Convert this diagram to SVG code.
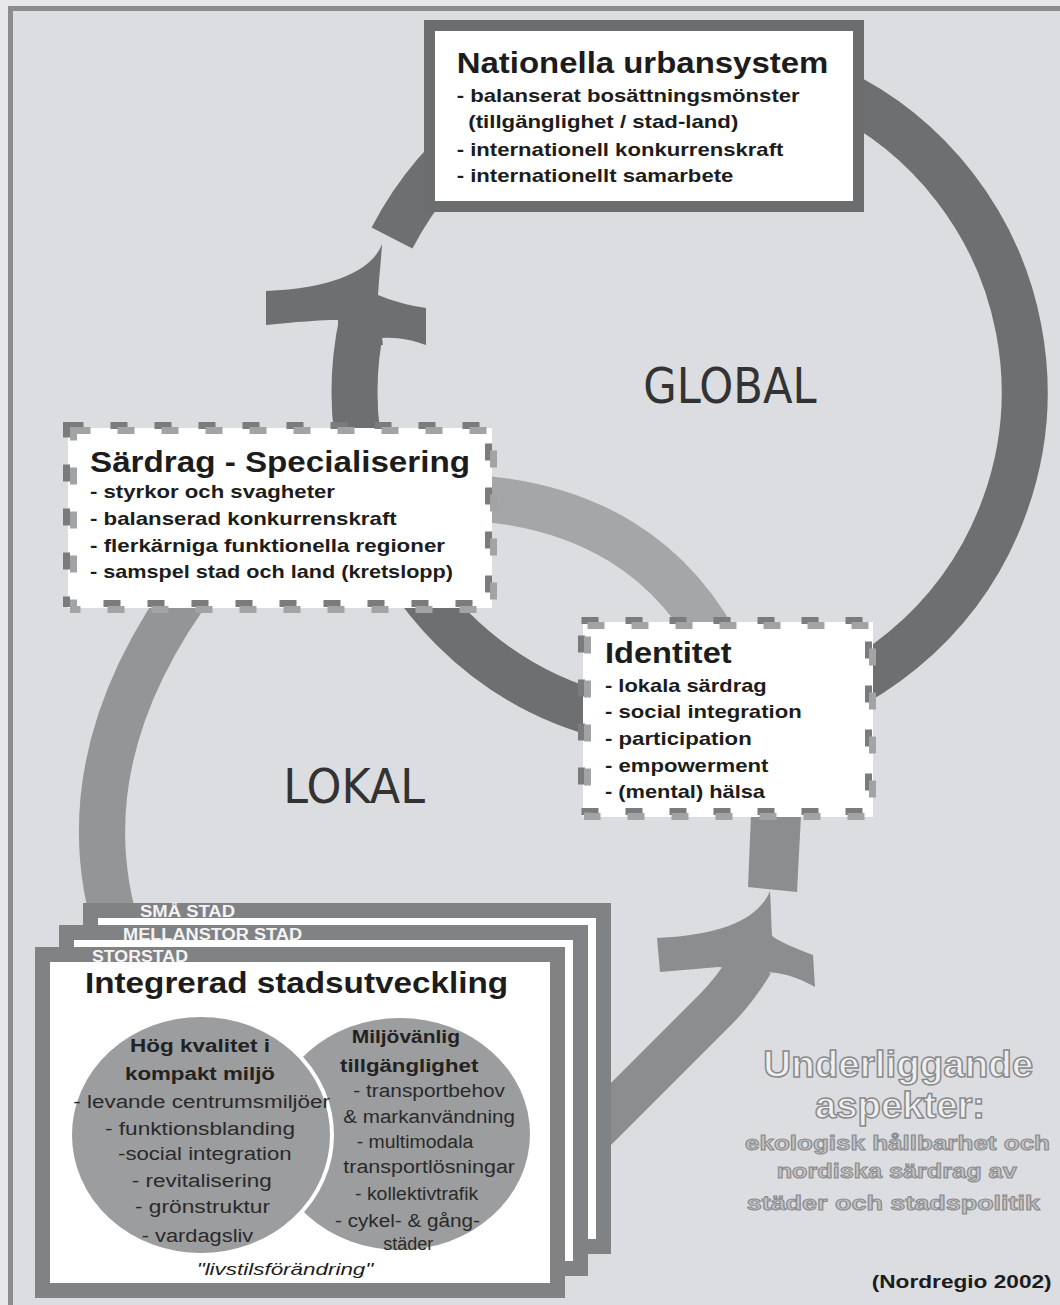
<svg xmlns="http://www.w3.org/2000/svg" width="1060" height="1305" viewBox="0 0 1060 1305">
<defs>
<style>
.t{font-family:"Liberation Sans",Arial,sans-serif;fill:#1c1c1c}
.h{font-size:30px;font-weight:bold}
.li{font-size:19px;font-weight:bold}
.c{font-size:18px;fill:#2a2a2a}
.cb{font-size:18px;font-weight:bold;fill:#222}
.st{font-family:"Liberation Sans",Arial,sans-serif;font-size:16px;font-weight:bold;fill:#f4f4f4}
.ol{font-family:"Liberation Sans",Arial,sans-serif;font-weight:bold;font-size:37px;fill:#efeff0;stroke:#8a8b8d;stroke-width:1.5}
.ol2{font-family:"Liberation Sans",Arial,sans-serif;font-weight:bold;font-size:20px;fill:#c3c4c6;stroke:#8a8b8d;stroke-width:1}
.cm{font-family:"DejaVu Sans",sans-serif;fill:#333}
.dd{fill:none;stroke:#7a7b7d;stroke-width:7;stroke-dasharray:17 27}
.dl{fill:none;stroke:#a2a3a5;stroke-width:7;stroke-dasharray:17 27}
.sb{fill:#fff;stroke:#818284;stroke-width:15}
.gr{fill:none;stroke:#6e6f71;stroke-width:46}
</style>
</defs>
<rect x="0" y="0" width="1060" height="1305" fill="#e8e8ea"/>
<rect x="10.5" y="8.5" width="1060" height="1310" fill="#dcdde0" stroke="#8b8c8e" stroke-width="5"/>

<g id="connectors">
  <!-- GLOBAL ring -->
  <path class="gr" d="M 392,238 A 335 335 0 1 1 362.3,320.4"/>
  <path fill="#6e6f71" d="M 382,244 C 374,266 342,288 266,291 L 266,325 C 296,322 320,320 338,320 L 338,345 L 383,345 L 382,338 C 398,337 412,340 426,345 L 426,308 C 406,305 390,300 378,295 C 379,278 381,262 382,244 Z"/>
  <!-- LOKAL ring pieces -->
  <path fill="none" stroke="#a5a6a8" stroke-width="46" d="M 460,497 Q 650,505 725,660"/>
  <path fill="none" stroke="#949597" stroke-width="46" d="M 200,575 Q 60,760 120,940"/>
  <polygon fill="#8c8d8f" points="751,815 801,815 797,892 748,887"/>
  <path fill="none" stroke="#8c8d8f" stroke-width="44" d="M 590,1135 L 715,1010 Q 735,990 752,962"/>
  <path fill="#8c8d8f" d="M 770,891 C 760,915 730,935 657,938 L 660,972 C 685,970 705,968 718,967 L 777,973 C 790,975 803,980 815,987 L 813,955 C 795,948 780,942 772,936 C 771,920 771,905 770,891 Z"/>
</g>

<g id="node-nationella">
  <rect x="429.5" y="25.5" width="429" height="181" fill="#fff" stroke="#6c6d6f" stroke-width="11"/>
  <text class="t h" x="456.7" y="73.3" textLength="371.6" lengthAdjust="spacingAndGlyphs">Nationella urbansystem</text>
  <text class="t li" x="456.7" y="101.7" textLength="343" lengthAdjust="spacingAndGlyphs">- balanserat bosättningsmönster</text>
  <text class="t li" x="468.3" y="128.3" textLength="270" lengthAdjust="spacingAndGlyphs">(tillgänglighet / stad-land)</text>
  <text class="t li" x="456.7" y="155.7" textLength="326.7" lengthAdjust="spacingAndGlyphs">- internationell konkurrenskraft</text>
  <text class="t li" x="456.7" y="181.7" textLength="276.7" lengthAdjust="spacingAndGlyphs">- internationellt samarbete</text>
</g>

<g id="node-sardrag">
  <rect x="68" y="428" width="424" height="180" fill="#fff"/>
  <rect class="dd" x="66.5" y="425.5" width="422" height="178"/>
  <rect class="dl" x="73.5" y="430.5" width="420" height="179"/>
  <text class="t h" x="90" y="471.7" textLength="380" lengthAdjust="spacingAndGlyphs">Särdrag - Specialisering</text>
  <text class="t li" x="90" y="498.3" textLength="245" lengthAdjust="spacingAndGlyphs">- styrkor och svagheter</text>
  <text class="t li" x="90" y="525" textLength="306.7" lengthAdjust="spacingAndGlyphs">- balanserad konkurrenskraft</text>
  <text class="t li" x="90" y="551.7" textLength="355" lengthAdjust="spacingAndGlyphs">- flerkärniga funktionella regioner</text>
  <text class="t li" x="90" y="578.3" textLength="363" lengthAdjust="spacingAndGlyphs">- samspel stad och land (kretslopp)</text>
</g>

<g id="node-identitet">
  <rect x="583" y="622" width="290" height="195" fill="#fff"/>
  <rect class="dd" x="581.5" y="620.5" width="287" height="191"/>
  <rect class="dl" x="587.5" y="625.5" width="285" height="191"/>
  <text class="t h" x="605" y="663.3" textLength="126.7" lengthAdjust="spacingAndGlyphs">Identitet</text>
  <text class="t li" x="605" y="691.7" textLength="161.7" lengthAdjust="spacingAndGlyphs">- lokala särdrag</text>
  <text class="t li" x="605" y="718.3" textLength="196.7" lengthAdjust="spacingAndGlyphs">- social integration</text>
  <text class="t li" x="605" y="745" textLength="146.7" lengthAdjust="spacingAndGlyphs">- participation</text>
  <text class="t li" x="605" y="771.7" textLength="163.3" lengthAdjust="spacingAndGlyphs">- empowerment</text>
  <text class="t li" x="605" y="798.3" textLength="160" lengthAdjust="spacingAndGlyphs">- (mental) hälsa</text>
</g>

<g id="node-integrerad">
  <rect class="sb" x="90.5" y="910.5" width="513" height="336"/>
  <text class="st" x="140" y="917" textLength="95" lengthAdjust="spacingAndGlyphs">SMÅ STAD</text>
  <rect class="sb" x="66.5" y="932.5" width="514" height="336"/>
  <text class="st" x="123" y="940" textLength="179" lengthAdjust="spacingAndGlyphs">MELLANSTOR STAD</text>
  <rect class="sb" x="42.5" y="954.5" width="515" height="336"/>
  <text class="st" x="92" y="962" textLength="96" lengthAdjust="spacingAndGlyphs">STORSTAD</text>
  <text class="t h" x="85" y="993" textLength="423" lengthAdjust="spacingAndGlyphs">Integrerad stadsutveckling</text>
  <ellipse cx="400" cy="1134" rx="130" ry="116" fill="#9c9d9f"/>
  <ellipse cx="201" cy="1135" rx="131" ry="120" fill="#9c9d9f" stroke="#fff" stroke-width="4"/>
  <text class="t cb" x="130" y="1051.7" textLength="140" lengthAdjust="spacingAndGlyphs">Hög kvalitet i</text>
  <text class="t cb" x="125" y="1080" textLength="150" lengthAdjust="spacingAndGlyphs">kompakt miljö</text>
  <text class="t c" x="73.3" y="1108.3" textLength="256.7" lengthAdjust="spacingAndGlyphs">- levande centrumsmiljöer</text>
  <text class="t c" x="105" y="1135" textLength="190" lengthAdjust="spacingAndGlyphs">- funktionsblanding</text>
  <text class="t c" x="118" y="1160" textLength="173.7" lengthAdjust="spacingAndGlyphs">-social integration</text>
  <text class="t c" x="131.7" y="1186.7" textLength="140" lengthAdjust="spacingAndGlyphs">- revitalisering</text>
  <text class="t c" x="135" y="1213.3" textLength="135" lengthAdjust="spacingAndGlyphs">- grönstruktur</text>
  <text class="t c" x="141.7" y="1241.7" textLength="111.6" lengthAdjust="spacingAndGlyphs">- vardagsliv</text>
  <text class="t cb" x="351.7" y="1043.3" textLength="108.3" lengthAdjust="spacingAndGlyphs">Miljövänlig</text>
  <text class="t cb" x="340" y="1071.7" textLength="138.3" lengthAdjust="spacingAndGlyphs">tillgänglighet</text>
  <text class="t c" x="353.3" y="1096.7" textLength="151.7" lengthAdjust="spacingAndGlyphs">- transportbehov</text>
  <text class="t c" x="343.3" y="1123.3" textLength="171.7" lengthAdjust="spacingAndGlyphs">&amp; markanvändning</text>
  <text class="t c" x="356.7" y="1148.3" textLength="116.6" lengthAdjust="spacingAndGlyphs">- multimodala</text>
  <text class="t c" x="343.3" y="1173.3" textLength="171.7" lengthAdjust="spacingAndGlyphs">transportlösningar</text>
  <text class="t c" x="355" y="1200" textLength="123.3" lengthAdjust="spacingAndGlyphs">- kollektivtrafik</text>
  <text class="t c" x="335" y="1226.7" textLength="145" lengthAdjust="spacingAndGlyphs">- cykel- &amp; gång-</text>
  <text class="t c" x="383.3" y="1250" textLength="50" lengthAdjust="spacingAndGlyphs">städer</text>
  <text class="t" x="196.7" y="1275" font-size="17" font-style="italic" textLength="176.6" lengthAdjust="spacingAndGlyphs">"livstilsförändring"</text>
</g>

<g id="labels">
  <text class="cm" x="643.3" y="403.3" font-size="50" textLength="173.4" lengthAdjust="spacingAndGlyphs">GLOBAL</text>
  <text class="cm" x="283.3" y="803.3" font-size="48" textLength="141.7" lengthAdjust="spacingAndGlyphs">LOKAL</text>
  <text class="ol" x="763.3" y="1076.7" textLength="270" lengthAdjust="spacingAndGlyphs">Underliggande</text>
  <text class="ol" x="815" y="1118.3" textLength="170" lengthAdjust="spacingAndGlyphs">aspekter:</text>
  <text class="ol2" x="745" y="1150" textLength="305" lengthAdjust="spacingAndGlyphs">ekologisk hållbarhet och</text>
  <text class="ol2" x="776.7" y="1178.3" textLength="240" lengthAdjust="spacingAndGlyphs">nordiska särdrag av</text>
  <text class="ol2" x="746.7" y="1210" textLength="293.3" lengthAdjust="spacingAndGlyphs">städer och stadspolitik</text>
  <text class="t" x="871.7" y="1288.3" font-size="18.6" font-weight="bold" textLength="180" lengthAdjust="spacingAndGlyphs">(Nordregio 2002)</text>
</g>
</svg>
